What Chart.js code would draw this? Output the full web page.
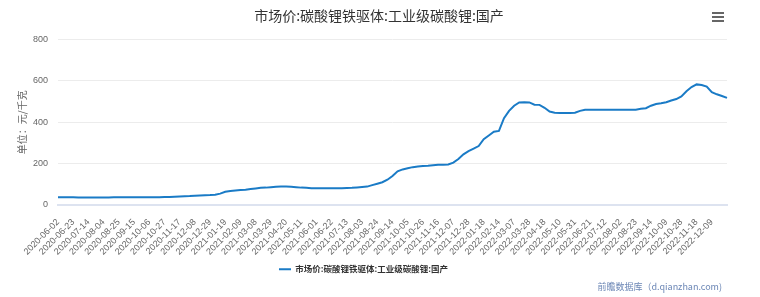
<!DOCTYPE html>
<html>
<head>
<meta charset="utf-8">
<script src="https://cdn.jsdelivr.net/npm/chart.js@4.4.1/dist/chart.umd.min.js"></script>
<style>
  html, body { margin: 0; padding: 0; background: #fff; }
  #box { width: 760px; height: 297px; }
</style>
</head>
<body>
<div id="box"><canvas id="chart" width="760" height="297"></canvas></div>
<script>
const chartTitle = "市场价:碳酸锂铁驱体:工业级碳酸锂:国产";
const seriesName = "市场价:碳酸锂铁驱体:工业级碳酸锂:国产";
const yAxisTitle = "单位：元/千克";
const creditText = "前瞻数据库（d.qianzhan.com)";

// one date label every third point
const tickDates = [
  "2020-06-02", "2020-06-23", "2020-07-14", "2020-08-04", "2020-08-25", "2020-09-15",
  "2020-10-06", "2020-10-27", "2020-11-17", "2020-12-08", "2020-12-29", "2021-01-19",
  "2021-02-09", "2021-03-08", "2021-03-29", "2021-04-20", "2021-05-11", "2021-06-01",
  "2021-06-22", "2021-07-13", "2021-08-03", "2021-08-24", "2021-09-14", "2021-10-05",
  "2021-10-26", "2021-11-16", "2021-12-07", "2021-12-28", "2022-01-18", "2022-02-14",
  "2022-03-07", "2022-03-28", "2022-04-18", "2022-05-10", "2022-05-31", "2022-06-21",
  "2022-07-12", "2022-08-02", "2022-08-23", "2022-09-14", "2022-10-09", "2022-10-28",
  "2022-11-18", "2022-12-09"
];

// price, roughly weekly (元/千克)
const prices2020 = [
  38, 38, 37, 37, 36, 36, 36, 36, 36, 36, 36,
  37, 37, 37, 37, 37, 37, 38, 38, 38, 38,
  39, 39, 40, 41, 42, 43, 45, 46, 47, 48
];
const prices2021 = [
  50, 55, 64, 68, 70, 72, 74, 77, 80, 83,
  84, 86, 88, 89, 89, 88, 86, 84, 83, 81,
  81, 81, 81, 81, 81, 81, 82, 83, 85, 87,
  89, 96, 103, 110, 122, 140, 163, 172, 178, 183,
  186, 189, 190, 192, 194, 195, 196, 205, 222, 245,
  260, 272, 285, 318
];
const prices2022 = [
  336, 354, 358, 420, 455, 480,
  496, 497, 496, 485, 484, 470, 452, 446, 445, 445,
  445, 446, 455, 460, 461, 461, 461, 461, 461, 461,
  461, 461, 461, 461, 465, 468, 480, 488, 492, 497,
  505, 512, 525, 550, 570, 583, 580, 572, 545, 535,
  527, 518
];
const yTicks = [0, 200, 400, 600, 800];

const prices = prices2020.concat(prices2021, prices2022);
const labels = prices.map((v, i) => (i % 3 === 0 && tickDates[i / 3]) ? tickDates[i / 3] : "");

const baseFont = '"Liberation Sans", "Noto Sans CJK SC", sans-serif';
const cjkFont = '"Noto Sans CJK SC", "Liberation Sans", sans-serif';

// title centred on the whole canvas, menu icon and source note
const extras = {
  id: "extras",
  afterDraw(chart) {
    const ctx = chart.ctx;
    ctx.save();
    ctx.font = "14px " + cjkFont;
    ctx.fillStyle = "#333";
    ctx.textAlign = "center";
    ctx.textBaseline = "middle";
    ctx.fillText(chartTitle, 379, 16);

    ctx.fillStyle = "#666";
    for (let i = 0; i < 3; i++) {
      ctx.fillRect(712, 12 + i * 4, 12, 2);
    }
    ctx.font = "9px " + cjkFont;
    ctx.fillStyle = "#6b86b5";
    ctx.textAlign = "right";
    ctx.fillText(creditText, 722, 287);
    ctx.restore();
  }
};

new Chart(document.getElementById("chart"), {
  type: "line",
  data: {
    labels: labels,
    datasets: [{
      label: seriesName,
      data: prices,
      borderColor: "#1a7bc6",
      backgroundColor: "#1a7bc6",
      borderWidth: 2,
      pointRadius: 0,
      tension: 0
    }]
  },
  options: {
    responsive: false,
    animation: false,
    layout: { padding: { left: 0, right: 33, top: 39.5, bottom: 13.5 } },
    plugins: {
      title: { display: false },
      legend: {
        position: "bottom",
        labels: {
          color: "#333",
          font: { family: cjkFont, size: 8.5, weight: "bold" },
          usePointStyle: true,
          pointStyle: "line",
          pointStyleWidth: 12,
          padding: 8
        }
      },
      tooltip: { enabled: false }
    },
    scales: {
      x: {
        grid: { display: false },
        border: { display: true, color: "#dde3f0", width: 2 },
        ticks: {
          autoSkip: false,
          maxRotation: 45,
          minRotation: 45,
          color: "#666",
          font: { family: baseFont, size: 9 },
          padding: 4
        },
        afterFit(scale) { scale.height = 52; }
      },
      y: {
        min: 0,
        max: 800,
        afterBuildTicks(scale) { scale.ticks = yTicks.map(v => ({ value: v })); },
        grid: { color: "#ececec", drawTicks: false },
        border: { display: false },
        ticks: {
          color: "#666",
          font: { family: baseFont, size: 9 },
          padding: 10
        },
        title: {
          display: true,
          text: yAxisTitle,
          color: "#666",
          font: { family: cjkFont, size: 10 },
          padding: { top: 16, bottom: 0 }
        },
        afterFit(scale) { scale.width = 58; }
      }
    }
  },
  plugins: [extras]
});
</script>
</body>
</html>
